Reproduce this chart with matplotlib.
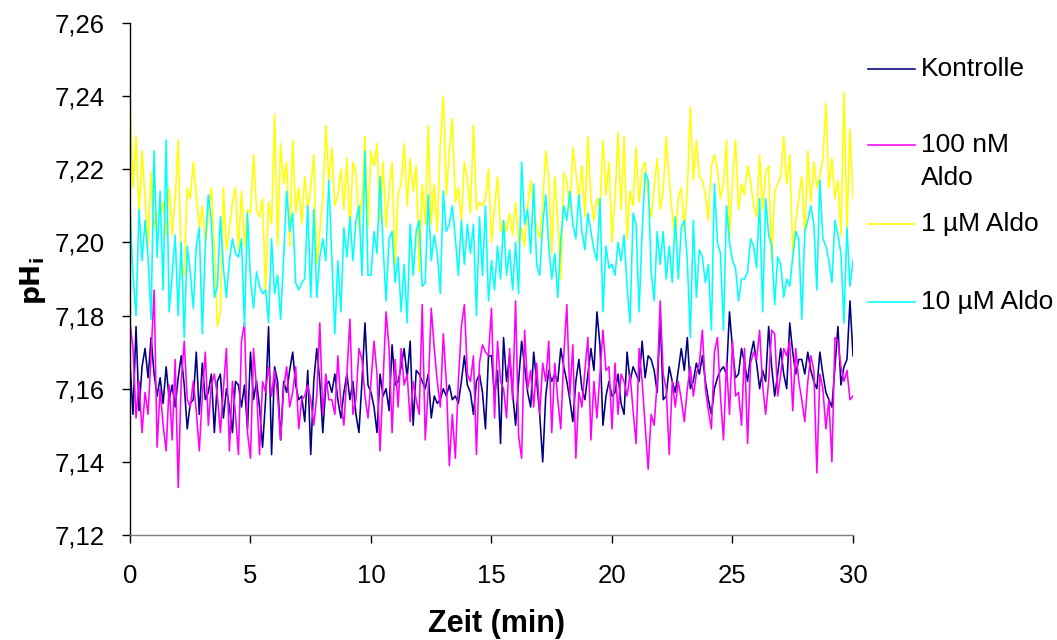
import numpy as np
import matplotlib
matplotlib.use("Agg")
import matplotlib.pyplot as plt
from matplotlib.lines import Line2D
from matplotlib.ticker import FuncFormatter

plt.rcParams["font.family"] = ["Liberation Sans", "DejaVu Sans"]

# Sampling: one value every 7.5 s over 30 min
time_min = np.arange(241) * 0.125

kontrolle = [
    7.167, 7.153, 7.177, 7.154, 7.166, 7.171, 7.163, 7.174, 7.164, 7.158, 7.163, 7.156, 7.166, 7.157, 7.161, 7.155, 7.163, 7.169, 7.161, 7.149,
    7.156, 7.157, 7.170, 7.153, 7.167, 7.157, 7.159, 7.164, 7.148, 7.162, 7.164, 7.152, 7.160, 7.155, 7.148, 7.162, 7.161, 7.155, 7.161, 7.149,
    7.170, 7.157, 7.162, 7.155, 7.144, 7.157, 7.177, 7.142, 7.166, 7.162, 7.146, 7.162, 7.159, 7.165, 7.170, 7.161, 7.157, 7.158, 7.151, 7.165,
    7.142, 7.162, 7.171, 7.162, 7.148, 7.161, 7.162, 7.159, 7.164, 7.157, 7.152, 7.159, 7.164, 7.157, 7.162, 7.153, 7.148, 7.162, 7.178, 7.161,
    7.159, 7.155, 7.148, 7.164, 7.158, 7.160, 7.154, 7.172, 7.161, 7.162, 7.166, 7.171, 7.163, 7.173, 7.150, 7.165, 7.164, 7.162, 7.160, 7.164,
    7.152, 7.158, 7.156, 7.157, 7.160, 7.158, 7.161, 7.157, 7.158, 7.156, 7.162, 7.169, 7.161, 7.159, 7.153, 7.162, 7.164, 7.159, 7.149, 7.169,
    7.169, 7.158, 7.165, 7.145, 7.174, 7.162, 7.169, 7.159, 7.150, 7.162, 7.173, 7.166, 7.159, 7.155, 7.170, 7.162, 7.153, 7.140, 7.158, 7.165,
    7.162, 7.164, 7.162, 7.171, 7.166, 7.162, 7.157, 7.151, 7.162, 7.168, 7.160, 7.157, 7.164, 7.171, 7.165, 7.181, 7.172, 7.150, 7.158, 7.162,
    7.158, 7.159, 7.164, 7.156, 7.153, 7.170, 7.162, 7.166, 7.164, 7.162, 7.173, 7.163, 7.169, 7.168, 7.165, 7.159, 7.180, 7.157, 7.158, 7.166,
    7.162, 7.159, 7.165, 7.171, 7.165, 7.174, 7.160, 7.162, 7.167, 7.164, 7.169, 7.162, 7.157, 7.153, 7.160, 7.163, 7.165, 7.166, 7.164, 7.181,
    7.171, 7.163, 7.164, 7.171, 7.167, 7.162, 7.169, 7.173, 7.167, 7.160, 7.165, 7.162, 7.177, 7.166, 7.158, 7.164, 7.171, 7.164, 7.160, 7.178,
    7.170, 7.164, 7.168, 7.168, 7.164, 7.170, 7.165, 7.162, 7.160, 7.170, 7.164, 7.159, 7.157, 7.155, 7.166, 7.177, 7.161, 7.166, 7.168, 7.184,
    7.169,
]

aldo_100nm = [
    7.178, 7.171, 7.152, 7.162, 7.148, 7.159, 7.153, 7.169, 7.187, 7.144, 7.160, 7.150, 7.143, 7.161, 7.146, 7.168, 7.133, 7.162, 7.173, 7.157,
    7.155, 7.162, 7.154, 7.143, 7.158, 7.170, 7.150, 7.161, 7.164, 7.158, 7.148, 7.160, 7.171, 7.143, 7.162, 7.153, 7.142, 7.173, 7.178, 7.148,
    7.141, 7.171, 7.160, 7.142, 7.162, 7.159, 7.166, 7.158, 7.165, 7.158, 7.146, 7.160, 7.166, 7.155, 7.159, 7.166, 7.149, 7.157, 7.158, 7.161,
    7.157, 7.150, 7.158, 7.178, 7.153, 7.164, 7.157, 7.157, 7.153, 7.169, 7.156, 7.150, 7.164, 7.179, 7.153, 7.157, 7.171, 7.168, 7.158, 7.152,
    7.162, 7.173, 7.164, 7.143, 7.162, 7.181, 7.171, 7.148, 7.168, 7.155, 7.171, 7.161, 7.164, 7.151, 7.162, 7.157, 7.153, 7.183, 7.146, 7.160,
    7.182, 7.171, 7.162, 7.155, 7.175, 7.162, 7.139, 7.153, 7.141, 7.162, 7.177, 7.183, 7.164, 7.162, 7.169, 7.142, 7.167, 7.172, 7.170, 7.169,
    7.182, 7.152, 7.173, 7.162, 7.160, 7.152, 7.171, 7.157, 7.184, 7.147, 7.141, 7.176, 7.160, 7.165, 7.155, 7.167, 7.153, 7.167, 7.162, 7.173,
    7.148, 7.167, 7.157, 7.149, 7.169, 7.183, 7.158, 7.172, 7.141, 7.159, 7.155, 7.165, 7.174, 7.146, 7.162, 7.152, 7.164, 7.176, 7.165, 7.166,
    7.149, 7.167, 7.153, 7.164, 7.162, 7.158, 7.164, 7.154, 7.145, 7.171, 7.162, 7.150, 7.138, 7.153, 7.150, 7.162, 7.184, 7.164, 7.160, 7.142,
    7.162, 7.155, 7.162, 7.157, 7.151, 7.160, 7.166, 7.158, 7.164, 7.167, 7.176, 7.160, 7.154, 7.149, 7.170, 7.174, 7.158, 7.146, 7.167, 7.153,
    7.173, 7.158, 7.159, 7.150, 7.171, 7.145, 7.167, 7.170, 7.168, 7.176, 7.161, 7.153, 7.162, 7.176, 7.175, 7.158, 7.164, 7.171, 7.169, 7.173,
    7.154, 7.171, 7.162, 7.157, 7.151, 7.162, 7.169, 7.165, 7.137, 7.164, 7.160, 7.149, 7.157, 7.140, 7.174, 7.173, 7.166, 7.162, 7.165, 7.157,
    7.158,
]

aldo_1um = [
    7.239, 7.215, 7.229, 7.208, 7.225, 7.212, 7.199, 7.219, 7.204, 7.208, 7.207, 7.211, 7.202, 7.215, 7.202, 7.212, 7.228, 7.194, 7.191, 7.215,
    7.212, 7.222, 7.213, 7.204, 7.210, 7.200, 7.207, 7.215, 7.199, 7.177, 7.181, 7.215, 7.198, 7.204, 7.211, 7.215, 7.198, 7.214, 7.199, 7.209,
    7.208, 7.224, 7.209, 7.207, 7.212, 7.186, 7.211, 7.205, 7.235, 7.199, 7.227, 7.216, 7.222, 7.199, 7.228, 7.208, 7.215, 7.205, 7.218, 7.209,
    7.215, 7.224, 7.194, 7.203, 7.212, 7.232, 7.217, 7.226, 7.210, 7.213, 7.220, 7.209, 7.223, 7.203, 7.222, 7.219, 7.204, 7.212, 7.229, 7.204,
    7.225, 7.221, 7.227, 7.206, 7.222, 7.204, 7.214, 7.222, 7.194, 7.213, 7.216, 7.227, 7.210, 7.223, 7.214, 7.221, 7.192, 7.216, 7.205, 7.232,
    7.205, 7.216, 7.203, 7.227, 7.240, 7.213, 7.225, 7.234, 7.211, 7.215, 7.206, 7.222, 7.217, 7.208, 7.232, 7.209, 7.211, 7.210, 7.212, 7.220,
    7.200, 7.209, 7.218, 7.203, 7.206, 7.203, 7.208, 7.202, 7.211, 7.200, 7.204, 7.199, 7.210, 7.217, 7.209, 7.204, 7.201, 7.211, 7.225, 7.218,
    7.197, 7.218, 7.206, 7.190, 7.219, 7.217, 7.209, 7.226, 7.219, 7.212, 7.221, 7.207, 7.229, 7.212, 7.206, 7.212, 7.209, 7.228, 7.213, 7.222,
    7.200, 7.212, 7.230, 7.209, 7.229, 7.201, 7.214, 7.210, 7.226, 7.211, 7.220, 7.222, 7.212, 7.207, 7.215, 7.223, 7.209, 7.214, 7.229, 7.217,
    7.208, 7.200, 7.212, 7.215, 7.203, 7.214, 7.237, 7.217, 7.228, 7.218, 7.217, 7.213, 7.206, 7.221, 7.224, 7.220, 7.212, 7.216, 7.228, 7.201,
    7.217, 7.228, 7.209, 7.216, 7.213, 7.221, 7.217, 7.210, 7.207, 7.224, 7.209, 7.219, 7.221, 7.195, 7.214, 7.216, 7.218, 7.229, 7.216, 7.224,
    7.197, 7.206, 7.212, 7.218, 7.201, 7.225, 7.211, 7.222, 7.215, 7.218, 7.223, 7.238, 7.215, 7.223, 7.212, 7.217, 7.202, 7.241, 7.204, 7.231,
    7.212,
]

aldo_10um = [
    7.209, 7.191, 7.180, 7.209, 7.195, 7.206, 7.196, 7.179, 7.225, 7.196, 7.214, 7.187, 7.228, 7.181, 7.191, 7.202, 7.180, 7.200, 7.174, 7.199,
    7.192, 7.182, 7.199, 7.204, 7.175, 7.199, 7.213, 7.206, 7.185, 7.188, 7.207, 7.193, 7.185, 7.195, 7.201, 7.197, 7.196, 7.201, 7.177, 7.208,
    7.190, 7.182, 7.192, 7.188, 7.186, 7.187, 7.178, 7.201, 7.186, 7.191, 7.179, 7.196, 7.214, 7.203, 7.208, 7.189, 7.187, 7.189, 7.190, 7.210,
    7.185, 7.209, 7.185, 7.196, 7.201, 7.195, 7.217, 7.196, 7.175, 7.195, 7.181, 7.204, 7.196, 7.207, 7.195, 7.206, 7.210, 7.191, 7.225, 7.191,
    7.191, 7.203, 7.197, 7.218, 7.199, 7.184, 7.201, 7.203, 7.189, 7.196, 7.181, 7.194, 7.178, 7.205, 7.191, 7.203, 7.206, 7.188, 7.189, 7.213,
    7.195, 7.202, 7.197, 7.186, 7.214, 7.203, 7.205, 7.210, 7.201, 7.191, 7.206, 7.194, 7.205, 7.197, 7.205, 7.180, 7.207, 7.191, 7.210, 7.184,
    7.195, 7.187, 7.199, 7.190, 7.206, 7.191, 7.198, 7.187, 7.200, 7.186, 7.222, 7.205, 7.209, 7.197, 7.216, 7.194, 7.191, 7.205, 7.213, 7.199,
    7.190, 7.197, 7.185, 7.201, 7.210, 7.206, 7.214, 7.205, 7.201, 7.213, 7.203, 7.198, 7.208, 7.203, 7.198, 7.195, 7.212, 7.181, 7.199, 7.193,
    7.194, 7.191, 7.200, 7.195, 7.202, 7.188, 7.178, 7.208, 7.205, 7.181, 7.203, 7.219, 7.217, 7.192, 7.184, 7.203, 7.194, 7.203, 7.190, 7.199,
    7.189, 7.207, 7.190, 7.204, 7.206, 7.195, 7.174, 7.206, 7.185, 7.198, 7.196, 7.189, 7.194, 7.176, 7.216, 7.200, 7.197, 7.176, 7.210, 7.200,
    7.195, 7.193, 7.184, 7.190, 7.190, 7.192, 7.201, 7.199, 7.193, 7.212, 7.181, 7.212, 7.202, 7.199, 7.183, 7.196, 7.194, 7.185, 7.190, 7.188,
    7.196, 7.203, 7.201, 7.179, 7.203, 7.206, 7.210, 7.205, 7.187, 7.217, 7.201, 7.199, 7.195, 7.189, 7.206, 7.202, 7.197, 7.178, 7.204, 7.188,
    7.195,
]

series_labels = ["Kontrolle", "100 nM\nAldo", "1 µM Aldo", "10 µM Aldo"]
series_values = [kontrolle, aldo_100nm, aldo_1um, aldo_10um]
series_colors = ["#000080", "#FF00FF", "#FFFF00", "#00FFFF"]

y_ticks = [7.12, 7.14, 7.16, 7.18, 7.20, 7.22, 7.24, 7.26]
x_ticks = [0, 5, 10, 15, 20, 25, 30]

W, H = 1057, 640
fig = plt.figure(figsize=(W / 100, H / 100), dpi=100)
ax = fig.add_axes([130 / W, 1 - 535 / H, 723 / W, 512 / H])

for vals, col in zip(series_values, series_colors):
    ax.plot(time_min, vals, color=col, lw=1.15)

ax.set_xlim(0, 30)
ax.set_ylim(7.12, 7.26)
ax.set_xticks(x_ticks)
ax.set_yticks(y_ticks)
ax.yaxis.set_major_formatter(FuncFormatter(lambda v, p: f"{v:.2f}".replace(".", ",")))

for s in ["top", "right"]:
    ax.spines[s].set_visible(False)
ax.spines["left"].set_color("black")
ax.spines["left"].set_linewidth(1.0)
ax.spines["bottom"].set_color("#808080")
ax.spines["bottom"].set_linewidth(1.0)

ax.tick_params(axis="y", direction="out", length=6, width=1.0, color="black",
               labelsize=18.5, pad=12)
ax.tick_params(axis="x", direction="out", length=6, width=1.0, color="black",
               labelsize=18.5, pad=15)

# Axis titles
fig.text(497 / W, 1 - 624 / H, "Zeit (min)", fontsize=22, fontweight="bold",
         ha="center", va="center")
fig.text(33 / W, 1 - 281 / H, r"$\mathbf{pH_i}$", fontsize=19, rotation=90,
         ha="center", va="center")

# Legend to the right of the plot area
legend_rows = [69, 145, 224, 302]
for lab, col, ypx in zip(series_labels, series_colors, legend_rows):
    yf = 1 - ypx / H
    fig.add_artist(Line2D([868 / W, 915 / W], [yf, yf], color=col, lw=1.15))
    for k, part in enumerate(lab.split("\n")):
        fig.text(921 / W, 1 - (ypx + 33 * k) / H, part, fontsize=19,
                 ha="left", va="center")

fig.savefig("out.png", dpi=100, facecolor="white")
